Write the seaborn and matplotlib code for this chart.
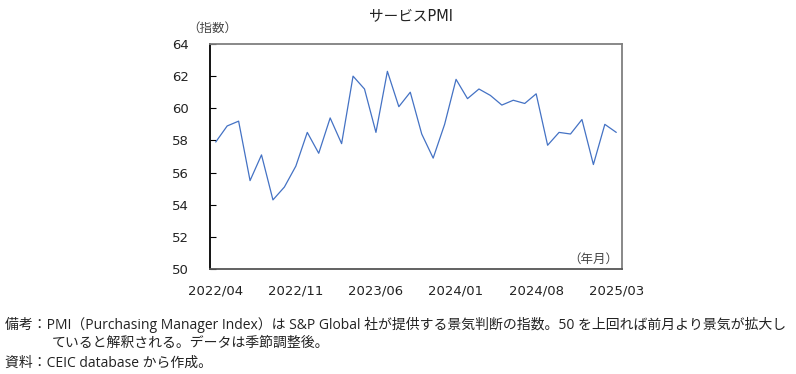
import matplotlib
matplotlib.use("Agg")
import matplotlib.pyplot as plt
import seaborn as sns
import pandas as pd
import numpy as np

# monthly service PMI, 2022/04 .. 2025/03
months = pd.period_range("2022-04", "2025-03", freq="M").strftime("%Y/%m").tolist()
pmi = [57.9, 58.9, 59.2, 55.5, 57.1, 54.3, 55.1, 56.4, 58.5, 57.2,
       59.4, 57.8, 62.0, 61.2, 58.5, 62.3, 60.1, 61.0, 58.4, 56.9,
       59.0, 61.8, 60.6, 61.2, 60.8, 60.2, 60.5, 60.3, 60.9, 57.7,
       58.5, 58.4, 59.3, 56.5, 59.0, 58.5]
yticks = [50, 52, 54, 56, 58, 60, 62, 64]
label_every = 7

df = pd.DataFrame({"pos": np.arange(len(months)), "month": months, "pmi": pmi})

sns.set_theme(style="white")
# Latin glyphs from DejaVu (Verdana-like), Japanese from Noto CJK
plt.rcParams["font.family"] = ["DejaVu Sans", "Noto Sans CJK JP"]
# for texts with full-width brackets/colons (DejaVu has narrow ones)
jp_font = ["Open Sans", "Noto Sans CJK JP"]

fig = plt.figure(figsize=(7.96, 3.74), dpi=100)
ax = fig.add_axes([210 / 796, 105 / 374, 412 / 796, 225 / 374])

sns.lineplot(data=df, x="pos", y="pmi", color="#4472C4", linewidth=0.9, ax=ax)

ax.set_xlim(-0.5, len(months) - 0.5)
ax.set_ylim(yticks[0], yticks[-1])
ax.set_yticks(yticks)
ax.set_xlabel("")
ax.set_ylabel("")

# labels at category centres, tick marks on category boundaries
lab_pos = df["pos"][::label_every]
ax.set_xticks(lab_pos)
ax.set_xticklabels(df["month"][::label_every])
ax.set_xticks(lab_pos - 0.5, minor=True)
ax.tick_params(axis="x", which="major", length=0, pad=11, labelsize=9.5, colors="#222222")
ax.tick_params(axis="x", which="minor", direction="in", length=4, width=0.8, color="#555555")
ax.tick_params(axis="y", direction="in", length=4, width=0.8, pad=15, labelsize=9.5,
               color="#000000", labelcolor="#222222")
ax.tick_params(left=True, bottom=True)

ax.spines["left"].set_color("#000000")
ax.spines["bottom"].set_color("#555555")
ax.spines["top"].set_color("#7f7f7f")
ax.spines["right"].set_color("#7f7f7f")
for s in ax.spines.values():
    s.set_linewidth(1.3)

fig.text(411 / 796, 1 - 16 / 374, "サービスPMI", ha="center", va="center", fontsize=10.5, color="#222222")
fig.text(212 / 796, 1 - 28 / 374, "（指数）", ha="center", va="center", fontsize=9, color="#444444",
         family=jp_font)
ax.text(0.99, 0.015, "（年月）", transform=ax.transAxes, ha="right", va="bottom", fontsize=9,
        color="#444444", family=jp_font)

fig.text(5 / 796, 1 - 325 / 374,
         "備考：PMI（Purchasing Manager Index）は S&P Global 社が提供する景気判断の指数。50 を上回れば前月より景気が拡大し",
         ha="left", va="center", fontsize=10, color="#222222", family=jp_font)
fig.text(52 / 796, 1 - 343 / 374, "ていると解釈される。データは季節調整後。",
         ha="left", va="center", fontsize=10, color="#222222", family=jp_font)
fig.text(5 / 796, 1 - 363 / 374, "資料：CEIC database から作成。",
         ha="left", va="center", fontsize=10, color="#222222", family=jp_font)

fig.savefig("out.png", dpi=100, facecolor="white")
